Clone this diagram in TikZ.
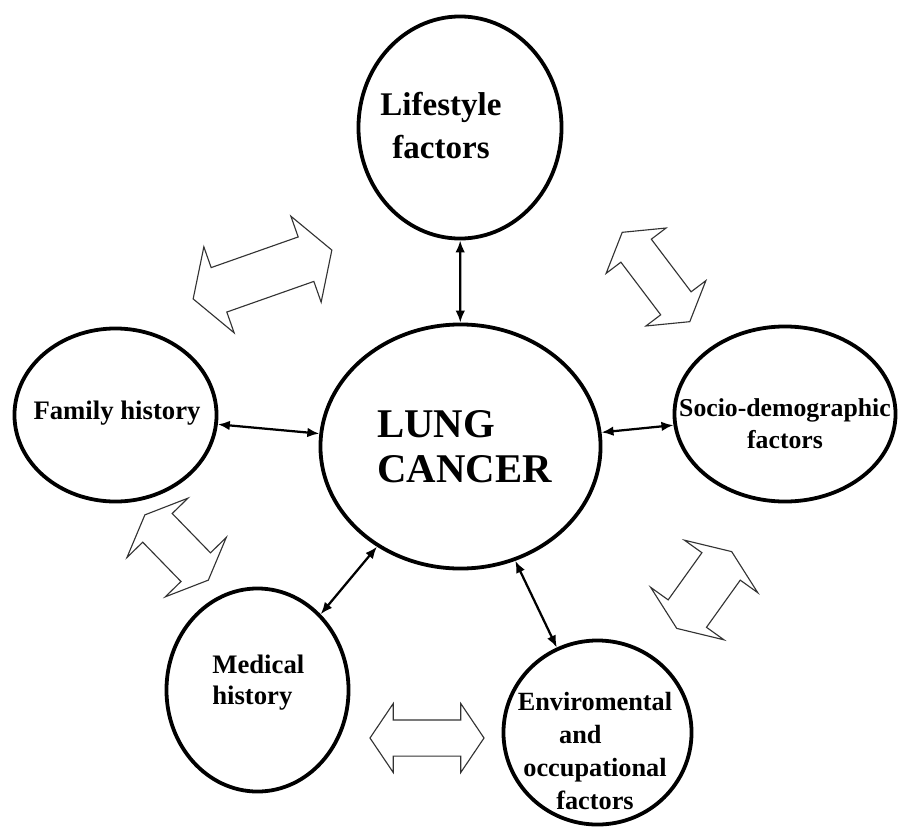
\documentclass[tikz,border=0pt]{standalone}
\usepackage{fontspec}
\setmainfont{Liberation Serif}
\usetikzlibrary{arrows.meta,shapes.geometric,shapes.arrows}
\tikzset{
  lc/ellipse/.style={
    ellipse,
    draw=black,
    line width=2.7pt,
    inner sep=0pt
  },
  lc/label/.style={
    font=\bfseries\fontsize{19}{23}\selectfont,
    align=center,
    inner sep=0pt,
    text=black
  },
  lc/link/.style={{Latex[length=3mm,width=2.4mm]}-{Latex[length=3mm,width=2.4mm]}, line width=1.6pt},
  lc/swap/.style={
    double arrow,
    draw=black!80,
    line width=0.8pt,
    fill=white,
    inner xsep=0pt
  }
}

\begin{document}
\begin{tikzpicture}[x=0.025cm,y=-0.025cm]
  \useasboundingbox (0,0) rectangle (899,828);
  % ellipses
  \node[lc/ellipse, minimum width=7cm, minimum height=6.1cm] (lung) at (460.5,446.5) {};
  \node[lc/ellipse, minimum width=5.075cm, minimum height=5.55cm] (life) at (460,127.5) {};
  \node[lc/ellipse, minimum width=5.05cm, minimum height=4.325cm] (family) at (115.5,415) {};
  \node[lc/ellipse, minimum width=5.525cm, minimum height=4.375cm] (socio) at (785,414) {};
  \node[lc/ellipse, minimum width=4.55cm, minimum height=5.075cm] (medical) at (257.5,690) {};
  \node[lc/ellipse, minimum width=4.7cm, minimum height=4.6cm] (envir) at (597.5,732.5) {};
  % texts
  \node[lc/label, anchor=west, align=left, font=\bfseries\fontsize{29}{32}\selectfont] (lungtxt) at (377,447) {LUNG\\CANCER};
  \node[lc/label, font=\bfseries\fontsize{23.5}{30.6}\selectfont] (lifetxt) at (441,126) {Lifestyle\\factors};
  \node[lc/label] (familytxt) at (117,413) {Family history};
  \node[lc/label, font=\bfseries\fontsize{18.3}{22.8}\selectfont] (sociotxt) at (785,424) {Socio-demographic\\factors};
  \node[lc/label, anchor=west, align=left, font=\bfseries\fontsize{19}{22}\selectfont] (medicaltxt) at (212,683) {Medical\\history};
  \node[lc/label, font=\bfseries\fontsize{18.7}{23.5}\selectfont] (envirtxt) at (595,751) {Enviromental\\and\phantom{nn}\\occupational\\factors};
  % links to the centre
  \foreach \f in {life,family,socio,medical,envir}{\draw[lc/link] (\f) -- (lung);}
  % hollow double arrows between the factors
  \node[lc/swap, minimum height=3.675cm, inner ysep=0.575cm, double arrow head extend=0.55cm, double arrow tip angle=118, rotate=19.4] (swapa) at (262.5,274.5) {};
  \node[lc/swap, minimum height=2.8cm, inner ysep=0.4625cm, double arrow head extend=0.4625cm, double arrow tip angle=117, rotate=-52.9] (swapb) at (656,277) {};
  \node[lc/swap, minimum height=2.275cm, inner ysep=0.5cm, double arrow head extend=0.55cm, double arrow tip angle=134, rotate=-45.8] (swapc) at (176.6,547.5) {};
  \node[lc/swap, minimum height=2.36cm, inner ysep=0.575cm, double arrow head extend=0.5375cm, double arrow tip angle=136, rotate=54.4] (swapd) at (704.2,590) {};
  \node[lc/swap, minimum height=2.85cm, inner ysep=0.4375cm, double arrow head extend=0.41cm, double arrow tip angle=112] (swape) at (427,738) {};
\end{tikzpicture}
\end{document}
